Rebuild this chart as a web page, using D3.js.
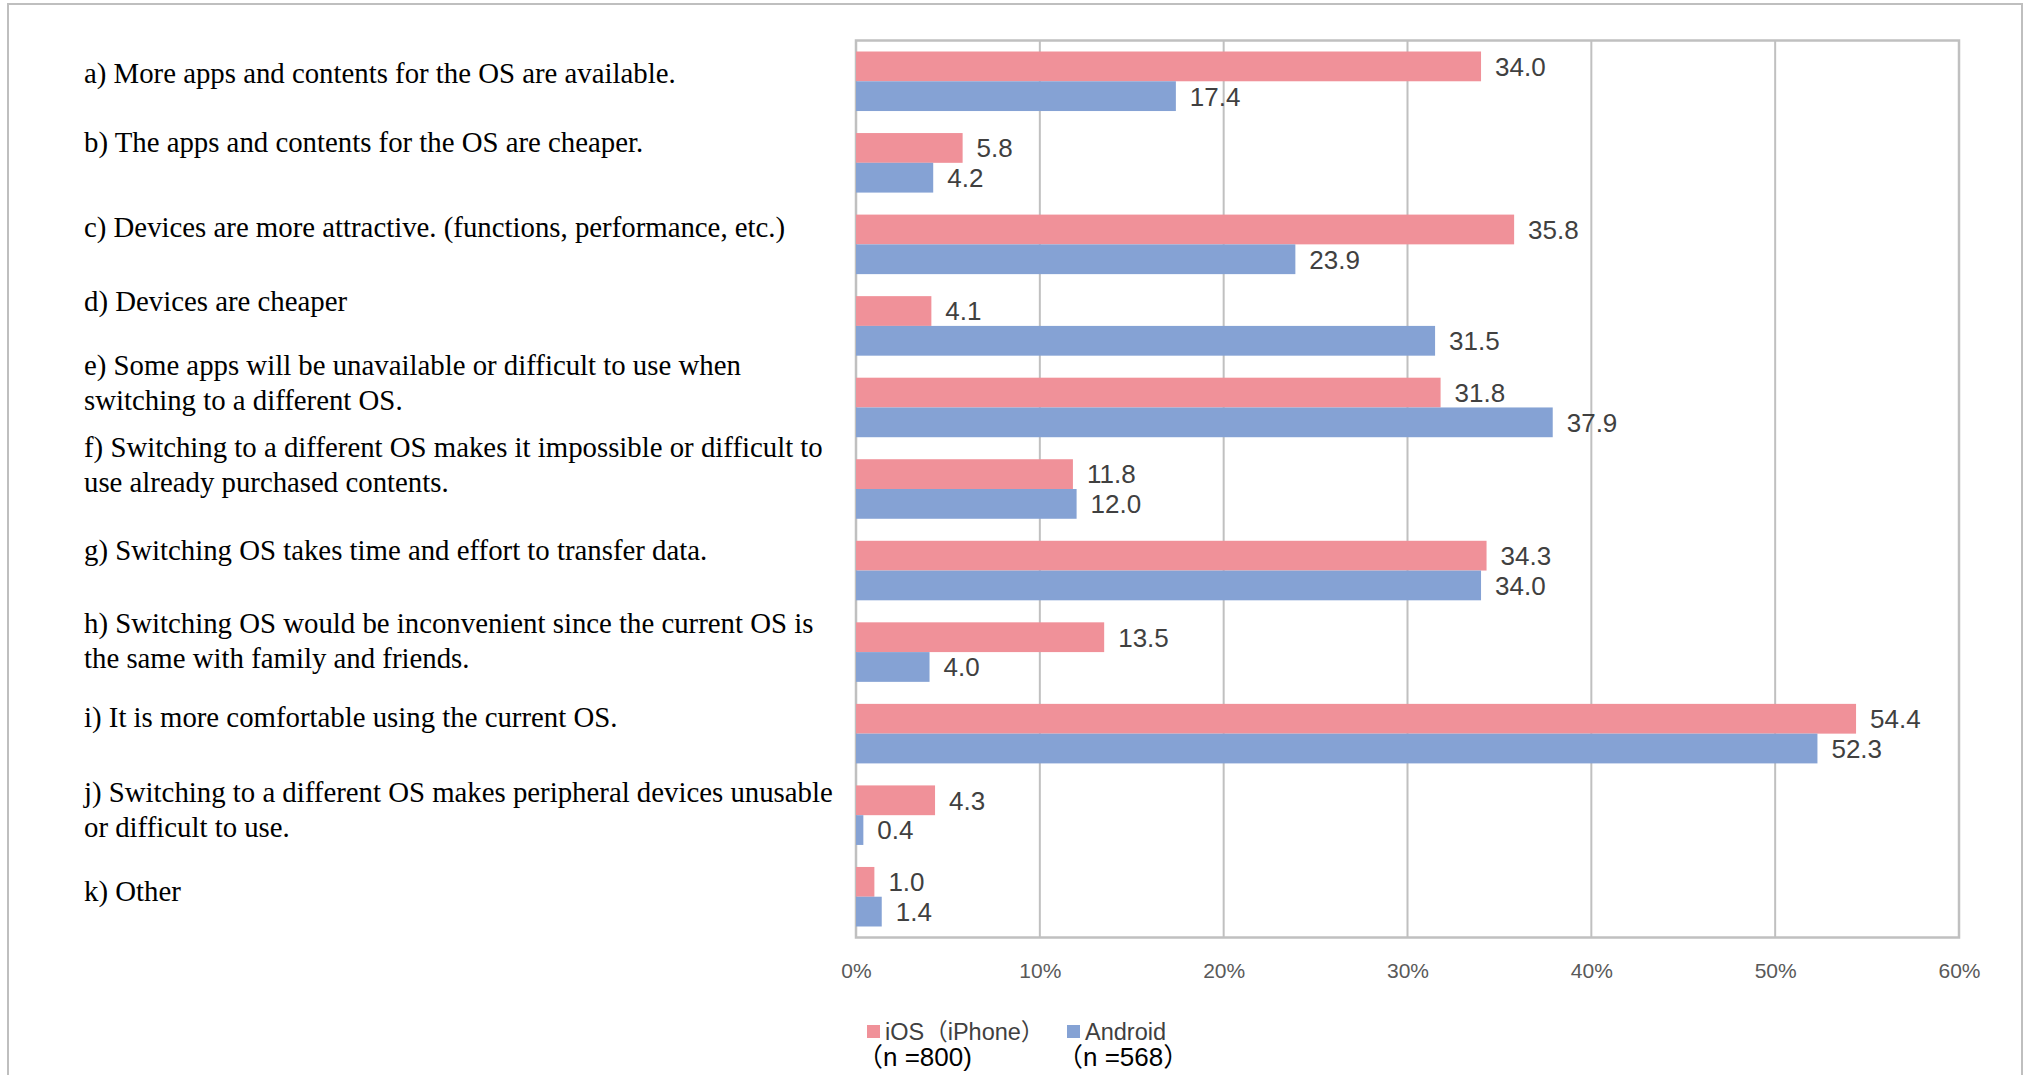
<!DOCTYPE html>
<html>
<head>
<meta charset="utf-8">
<script src="https://cdn.jsdelivr.net/npm/d3@7/dist/d3.min.js"></script>
<style>
  html, body { margin: 0; padding: 0; background: #fff; }
  svg { display: block; }
</style>
</head>
<body>
<svg id="chart" width="2027" height="1075"></svg>
<script>
// ---------- data ----------
const categories = [
  ["a) More apps and contents for the OS are available."],
  ["b) The apps and contents for the OS are cheaper."],
  ["c) Devices are more attractive. (functions, performance, etc.)"],
  ["d) Devices are cheaper"],
  ["e) Some apps will be unavailable or difficult to use when", "switching to a different OS."],
  ["f) Switching to a different OS makes it impossible or difficult to", "use already purchased contents."],
  ["g) Switching OS takes time and effort to transfer data."],
  ["h) Switching OS would be inconvenient since the current OS is", "the same with family and friends."],
  ["i) It is more comfortable using the current OS."],
  ["j) Switching to a different OS makes peripheral devices unusable", "or difficult to use."],
  ["k) Other"]
];
const seriesNames = ["iOS（iPhone）", "Android"];
const seriesN = ["（n =800)", "（n =568）"];
const iosValues = [34.0, 5.8, 35.8, 4.1, 31.8, 11.8, 34.3, 13.5, 54.4, 4.3, 1.0];
const androidValues = [17.4, 4.2, 23.9, 31.5, 37.9, 12.0, 34.0, 4.0, 52.3, 0.4, 1.4];
const tickValues = [0, 10, 20, 30, 40, 50, 60];
const tickLabels = ["0%", "10%", "20%", "30%", "40%", "50%", "60%"];

// ---------- layout / style ----------
const colors = ["#F09199", "#85A2D4"];
const plot = { left: 856, right: 1959, top: 40.5, bottom: 937.5 };
const labelX = 84;
const labelLineGap = 35;
// first-line baseline offset from band centre (the text block is independently placed)
const labelNudge = [1.7, -10.8, -7.4, -14.9, -32.5, -32, -10.6, -19, -6.7, -13.2, 4.2];

const svg = d3.select("#chart");

// outer frame
svg.append("rect")
  .attr("x", 8).attr("y", 4).attr("width", 2014).attr("height", 1100)
  .attr("fill", "none").attr("stroke", "#BFBFBF").attr("stroke-width", 2);

const x = d3.scaleLinear().domain([0, 60]).range([plot.left, plot.right]);
const idx = d3.range(categories.length);
const y = d3.scaleBand().domain(idx).range([plot.top, plot.bottom])
  .paddingInner(0.27).paddingOuter(0.135);
const ySub = d3.scaleBand().domain([0, 1]).range([0, y.bandwidth()]);

// gridlines + border
const g = svg.append("g");
g.selectAll("line.grid").data(tickValues.slice(1, -1)).join("line")
  .attr("x1", d => x(d)).attr("x2", d => x(d))
  .attr("y1", plot.top).attr("y2", plot.bottom)
  .attr("stroke", "#C0C0C0").attr("stroke-width", 2);
g.append("rect")
  .attr("x", plot.left).attr("y", plot.top)
  .attr("width", plot.right - plot.left).attr("height", plot.bottom - plot.top)
  .attr("fill", "none").attr("stroke", "#C0C0C0").attr("stroke-width", 2.5);

// x axis labels
const axis = d3.axisBottom(x).tickValues(tickValues)
  .tickFormat((d, i) => tickLabels[i]).tickSize(0).tickPadding(0);
const ax = svg.append("g").attr("transform", `translate(0, ${plot.bottom + 26})`).call(axis);
ax.select(".domain").remove();
ax.selectAll("text")
  .attr("font-family", "'Liberation Sans', Arial, sans-serif")
  .attr("font-size", 21).attr("fill", "#595959");

// bars
const seriesValues = [iosValues, androidValues];
seriesValues.forEach((vals, s) => {
  const grp = svg.append("g");
  grp.selectAll("rect").data(vals).join("rect")
    .attr("x", x(0))
    .attr("y", (d, i) => y(i) + ySub(s))
    .attr("width", d => x(d) - x(0))
    .attr("height", ySub.bandwidth())
    .attr("fill", colors[s]);
  grp.selectAll("text").data(vals).join("text")
    .attr("x", d => x(d) + 14)
    .attr("y", (d, i) => y(i) + ySub(s) + ySub.bandwidth() / 2)
    .attr("dy", "0.36em")
    .attr("font-family", "'Liberation Sans', Arial, sans-serif")
    .attr("font-size", 26).attr("fill", "#404040")
    .text(d => d.toFixed(1));
});

// category labels
const lab = svg.append("g")
  .attr("font-family", "'Liberation Serif', 'Times New Roman', serif")
  .attr("font-size", 28.8).attr("fill", "#000");
categories.forEach((lines, i) => {
  const t = lab.append("text")
    .attr("x", labelX)
    .attr("y", y(i) + y.bandwidth() / 2 + labelNudge[i]);
  lines.forEach((ln, k) => {
    t.append("tspan").attr("x", labelX).attr("dy", k === 0 ? 0 : labelLineGap).text(ln);
  });
});

// legend
const legendX = [867, 1067];
const leg = svg.append("g");
seriesNames.forEach((name, s) => {
  leg.append("rect")
    .attr("x", legendX[s]).attr("y", 1025).attr("width", 13).attr("height", 13)
    .attr("fill", colors[s]);
  leg.append("text")
    .attr("x", legendX[s] + 18).attr("y", 1032).attr("dy", "0.36em")
    .attr("font-family", "'Liberation Sans', 'Noto Sans CJK JP', sans-serif")
    .attr("font-size", 23.5).attr("fill", "#404040")
    .text(name);
  leg.append("text")
    .attr("x", legendX[s] - 10).attr("y", 1057).attr("dy", "0.36em")
    .attr("font-family", "'Liberation Sans', 'Noto Sans CJK JP', sans-serif")
    .attr("font-size", 26).attr("fill", "#000")
    .text(seriesN[s]);
});
</script>
</body>
</html>
